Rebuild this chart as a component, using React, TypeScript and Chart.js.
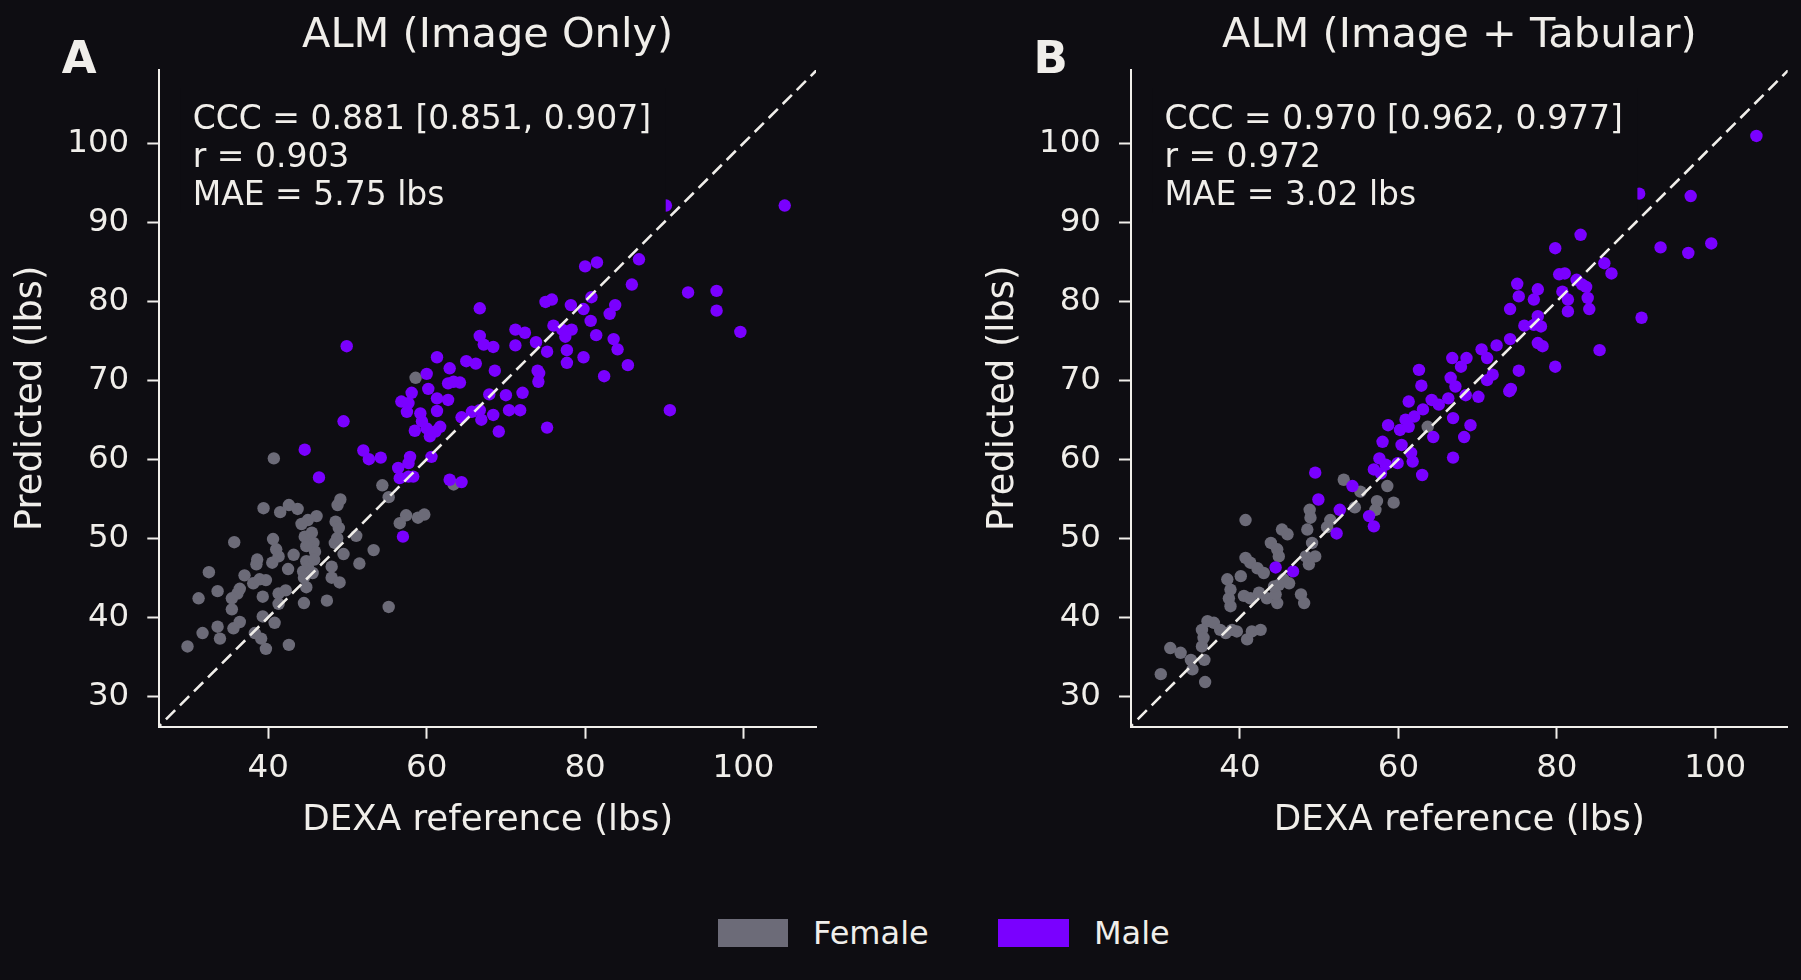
import React, { useEffect, useRef } from 'react';
import { Chart, registerables } from 'chart.js';

Chart.register(...registerables);

const BG = '#0e0d12';
const FG = '#f0eeea';
const GRAY = '#6c6b78';
const PURPLE = '#7a00ff';
const FAMILY = '"DejaVu Sans", "Liberation Sans", sans-serif';

const xRange = [26.24, 109.15];
const yRange = [26.15, 109.25];
const diagonal = [20, 115];
const xTicks = [40, 60, 80, 100];
const yTicks = [30, 40, 50, 60, 70, 80, 90, 100];
const seriesNames = ['Female', 'Male'];

const titleA = 'ALM (Image Only)';
const titleB = 'ALM (Image + Tabular)';
const xLabel = 'DEXA reference (lbs)';
const yLabel = 'Predicted (lbs)';
const statsA = ['CCC = 0.881 [0.851, 0.907]', 'r = 0.903', 'MAE = 5.75 lbs'];
const statsB = ['CCC = 0.970 [0.962, 0.977]', 'r = 0.972', 'MAE = 3.02 lbs'];

const femaleA: number[][] = [
  [40.7, 60.1], [39.4, 53.8], [41.5, 53.3], [42.6, 54.2], [43.7, 53.7], [48.75, 54.2], [49.1, 54.9],
  [46.1, 52.8], [45.0, 52.3], [44.2, 51.8], [48.5, 52.1], [48.9, 51.3], [35.7, 49.5], [40.6, 49.9],
  [44.6, 50.2], [45.5, 50.7], [45.7, 49.4], [45.9, 48.3], [44.8, 49.0], [48.4, 49.4], [48.7, 50.0],
  [51.1, 50.3], [53.3, 48.5], [41.0, 48.6], [41.3, 47.7], [40.5, 46.9], [43.2, 47.9], [38.6, 47.3],
  [38.5, 46.7], [49.5, 48.0], [44.8, 47.1], [45.0, 46.4], [44.4, 45.8], [44.5, 45.0], [42.5, 46.1],
  [48.0, 46.4], [51.5, 46.8], [32.5, 45.7], [37.0, 45.3], [38.1, 44.3], [38.9, 44.8], [39.7, 44.7],
  [48.0, 45.0], [49.0, 44.4], [44.8, 43.8], [36.4, 43.6], [36.1, 43.0], [33.6, 43.3], [31.2, 42.4],
  [35.4, 42.4], [35.4, 41.0], [39.3, 42.6], [41.3, 43.0], [42.2, 43.4], [41.3, 41.7], [44.5, 41.8],
  [47.4, 42.1], [55.2, 41.3], [39.3, 40.1], [40.8, 39.3], [36.4, 39.4], [35.6, 38.6], [33.6, 38.8],
  [33.9, 37.3], [31.7, 38.0], [38.3, 38.0], [39.1, 37.3], [39.7, 36.0], [29.8, 36.3], [42.6, 36.5],
  [54.4, 56.7], [55.2, 55.2], [56.6, 51.9], [57.4, 52.9], [58.9, 52.6], [59.7, 53.0], [63.4, 56.8],
  [58.6, 70.3], [45.8, 47.3], [45.6, 45.6],
];

const maleA: number[][] = [
  [44.6, 61.2], [46.4, 57.7], [52.0, 61.1], [52.7, 60.0], [57.0, 50.2], [49.9, 74.3], [49.5, 64.8],
  [105.2, 92.1], [90.2, 92.1], [99.6, 76.1],
  [80.0, 84.4], [81.5, 84.9], [86.8, 85.3], [85.9, 82.1], [93.0, 81.1], [96.6, 81.3], [96.6, 78.8],
  [66.7, 79.1], [75.0, 79.9], [75.8, 80.2], [78.2, 79.5], [80.8, 80.5], [79.8, 79.0], [83.8, 79.5],
  [83.1, 78.4], [80.7, 77.5], [81.4, 75.7], [76.0, 76.9], [77.1, 76.4], [78.3, 76.4], [77.5, 75.5],
  [77.7, 73.8], [77.7, 72.2], [79.8, 72.9], [83.6, 75.2], [84.1, 73.9], [85.4, 71.9], [82.4, 70.5],
  [90.7, 66.2], [75.2, 64.0],
  [66.7, 75.6], [67.2, 74.5], [68.4, 74.2], [71.2, 76.4], [72.4, 76.0], [71.2, 74.4], [73.8, 74.8],
  [75.2, 73.6], [74.0, 71.2], [74.2, 70.9], [74.1, 69.8], [68.6, 71.2], [61.3, 72.9], [65.0, 72.4],
  [66.2, 72.1], [62.9, 71.5], [60.0, 70.8], [62.7, 69.6], [64.2, 69.7], [63.4, 69.8], [58.1, 68.4],
  [60.2, 68.9], [61.3, 67.7], [62.7, 67.5], [56.8, 67.3], [57.7, 67.1], [57.5, 66.0], [61.3, 66.1],
  [67.9, 68.2], [70.0, 68.1], [72.1, 68.4], [70.4, 66.2], [71.8, 66.2], [68.4, 65.6], [66.9, 65.0],
  [65.7, 66.0], [66.7, 66.2], [64.4, 65.3], [59.2, 65.8], [59.4, 64.8], [60.0, 63.9], [58.5, 63.6],
  [61.7, 64.1], [60.4, 62.9], [61.1, 63.5], [69.1, 63.5], [60.6, 60.3], [57.9, 60.3], [57.7, 59.5],
  [54.2, 60.2], [56.4, 58.9], [56.6, 57.6], [58.3, 57.8], [57.7, 57.8], [62.9, 57.4], [64.4, 57.1],
];

const femaleB: number[][] = [
  [40.7, 52.3], [38.4, 44.8], [40.1, 45.2], [40.7, 47.5], [41.3, 46.9], [42.2, 46.2], [43.0, 45.6],
  [38.8, 43.5], [38.6, 42.4], [38.8, 41.4], [35.9, 39.5], [35.2, 38.4], [35.4, 37.4], [35.2, 36.3],
  [36.7, 39.3], [37.5, 38.4], [38.2, 38.0], [39.0, 38.4], [39.6, 38.2], [40.9, 37.2], [41.5, 38.2],
  [42.6, 38.4], [31.2, 36.1], [32.5, 35.5], [33.8, 34.6], [34.0, 33.4], [30.0, 32.8], [35.5, 34.6],
  [35.6, 31.8], [40.5, 42.7], [41.3, 42.4], [42.4, 43.1], [43.4, 42.4], [44.7, 41.8], [44.5, 42.9],
  [44.9, 44.1], [45.5, 44.8], [46.2, 44.3], [44.3, 43.9], [47.7, 42.9], [48.1, 41.8], [45.3, 51.1],
  [46.0, 50.5], [43.9, 49.4], [44.7, 48.6], [44.9, 47.7], [48.8, 53.6], [48.9, 52.6], [48.5, 51.1],
  [49.1, 49.4], [48.3, 47.7], [48.7, 46.7], [49.5, 47.7], [51.4, 52.3], [51.0, 51.4], [53.1, 57.4],
  [55.2, 55.9], [54.5, 53.9], [58.6, 56.6], [57.3, 54.7], [57.1, 53.6], [59.4, 54.5], [63.7, 64.1],
];

const maleB: number[][] = [
  [49.5, 58.3], [49.9, 54.9], [52.6, 53.6], [52.2, 50.6], [46.7, 45.8], [44.5, 46.3], [54.2, 56.6],
  [56.3, 52.8], [56.9, 51.5], [105.2, 100.9], [99.5, 87.3],
  [96.9, 93.3], [90.4, 93.6], [83.0, 88.4], [79.8, 86.7], [93.1, 86.8], [96.6, 86.1], [86.0, 84.8],
  [86.9, 83.5], [80.3, 83.4], [81.0, 83.5], [82.5, 82.7], [83.7, 81.8], [83.2, 82.1], [75.0, 82.2],
  [77.6, 81.5], [77.1, 80.2], [75.2, 80.6], [80.7, 81.2], [81.4, 80.2], [81.4, 78.7], [83.9, 80.4],
  [84.1, 79.0], [74.1, 79.0], [77.6, 78.1], [75.9, 76.9], [78.0, 76.8], [77.1, 77.0], [90.7, 77.9],
  [74.1, 75.2], [72.4, 74.4], [77.6, 74.7], [78.2, 74.3], [70.5, 73.9], [71.2, 72.8], [85.4, 73.8],
  [66.8, 72.8], [68.6, 72.8], [67.9, 71.7], [62.6, 71.3], [71.9, 70.7], [71.2, 70.0], [75.2, 71.2],
  [79.8, 71.7], [66.6, 70.3], [67.2, 69.2], [62.9, 69.3], [74.0, 68.6], [74.2, 68.9], [61.3, 67.3],
  [64.2, 67.5], [65.1, 66.9], [66.3, 67.7], [68.5, 68.1], [70.1, 67.9], [63.1, 66.3], [62.0, 65.4],
  [60.9, 65.0], [58.7, 64.3], [60.2, 63.7], [61.3, 64.1], [66.9, 65.2], [69.1, 64.3], [64.4, 62.8],
  [68.3, 62.8], [58.0, 62.2], [60.4, 61.8], [61.6, 60.8], [61.8, 59.7], [57.6, 60.1], [58.4, 59.3],
  [59.9, 59.5], [56.9, 58.7], [57.8, 58.2], [66.9, 60.2], [63.0, 58.0],
];

const toPts = (arr: number[][]) => arr.map(([x, y]) => ({ x, y }));

const panelTextPlugin = {
  id: 'panelText',
  afterDatasetsDraw(chart: any, _args: any, opts: any) {
    const { ctx, chartArea } = chart;
    const tx = chartArea.left + 33.4;
    ctx.save();
    ctx.beginPath();
    ctx.rect(chartArea.left + 1, chartArea.top, chartArea.width, chartArea.height);
    ctx.clip();
    ctx.fillStyle = BG;
    ctx.fillRect(tx - 12, 88, 485, 125);
    ctx.restore();
    ctx.save();
    ctx.fillStyle = FG;
    ctx.textAlign = 'left';
    ctx.textBaseline = 'alphabetic';
    ctx.font = `33px ${FAMILY}`;
    (opts.stats || []).forEach((s: string, i: number) => ctx.fillText(s, tx, 129.3 + i * 37.85));
    ctx.font = `bold 45px ${FAMILY}`;
    ctx.fillText(opts.panel || '', chartArea.left - 97.6, 73.3);
    ctx.restore();
  },
};

function makeConfig(title: string, panel: string, stats: string[], female: number[][], male: number[][], padLeft: number, padRight: number): any {
  const axisCommon = {
    type: 'linear',
    grid: { display: true, drawOnChartArea: false, drawTicks: true, tickLength: 12, tickWidth: 2, tickColor: FG, color: FG },
    border: { display: true, color: FG, width: 2 },
  };
  return {
    type: 'scatter',
    data: {
      datasets: [
        {
          label: 'y = x',
          data: [{ x: diagonal[0], y: diagonal[0] }, { x: diagonal[1], y: diagonal[1] }],
          showLine: true,
          borderColor: FG,
          borderWidth: 2.6,
          borderDash: [13, 6.8],
          pointRadius: 0,
          backgroundColor: FG,
        },
        { label: seriesNames[1], data: toPts(male), backgroundColor: PURPLE, borderWidth: 0, pointRadius: 6.2 },
        { label: seriesNames[0], data: toPts(female), backgroundColor: GRAY, borderWidth: 0, pointRadius: 6.2 },
      ],
    },
    options: {
      animation: false,
      responsive: false,
      events: [],
      layout: { padding: { left: padLeft, right: padRight, top: 0, bottom: 0 } },
      plugins: {
        legend: { display: false },
        tooltip: { enabled: false },
        title: {
          display: true,
          text: title,
          color: FG,
          fullSize: false,
          font: { family: FAMILY, size: 41.5, weight: 'normal' },
          padding: { top: 11.2, bottom: 9 },
        },
        panelText: { panel, stats },
      },
      scales: {
        x: {
          ...axisCommon,
          min: xRange[0],
          max: xRange[1],
          afterBuildTicks: (s: any) => { s.ticks = xTicks.map((v) => ({ value: v })); },
          afterFit: (s: any) => { s.height = 143.3; },
          ticks: { color: FG, font: { family: FAMILY, size: 32.5 }, padding: 9.9, maxRotation: 0, autoSkip: false },
          title: { display: true, text: xLabel, color: FG, font: { family: FAMILY, size: 35.7 }, padding: { top: 0, bottom: 28.3 } },
        },
        y: {
          ...axisCommon,
          min: yRange[0],
          max: yRange[1],
          afterBuildTicks: (s: any) => { s.ticks = yTicks.map((v) => ({ value: v })); },
          afterFit: (s: any) => { s.width = 159.3; },
          ticks: { color: FG, font: { family: FAMILY, size: 32.5 }, padding: 18, autoSkip: false },
          title: { display: true, text: yLabel, color: FG, font: { family: FAMILY, size: 36.7 }, padding: { top: 9.5, bottom: 0 } },
        },
      },
    },
    plugins: [panelTextPlugin],
  };
}

function Panel(props: { left: number; width: number; cfg: () => any }) {
  const ref = useRef<HTMLCanvasElement | null>(null);
  useEffect(() => {
    if (!ref.current) return;
    const chart = new Chart(ref.current, props.cfg());
    return () => chart.destroy();
  }, []);
  return (
    <canvas
      ref={ref}
      width={props.width}
      height={870}
      style={{ position: 'absolute', left: props.left, top: 0, width: props.width, height: 870 }}
    />
  );
}

export default function App() {
  useEffect(() => {
    document.body.style.margin = '0';
    document.body.style.background = BG;
  }, []);
  const legendText: React.CSSProperties = {
    position: 'absolute', top: 917, fontFamily: FAMILY, fontSize: 32, lineHeight: '32px', color: FG, whiteSpace: 'nowrap',
  };
  return (
    <div style={{ position: 'relative', width: 1801, height: 980, background: BG, overflow: 'hidden' }}>
      <Panel left={0} width={900} cfg={() => makeConfig(titleA, 'A', statsA, femaleA, maleA, 0, 84)} />
      <Panel left={900} width={901} cfg={() => makeConfig(titleB, 'B', statsB, femaleB, maleB, 71.7, 13.3)} />
      <div style={{ position: 'absolute', left: 718, top: 919, width: 70, height: 28, background: GRAY }} />
      <div style={{ ...legendText, left: 813 }}>{seriesNames[0]}</div>
      <div style={{ position: 'absolute', left: 998, top: 919, width: 71, height: 28, background: PURPLE }} />
      <div style={{ ...legendText, left: 1094 }}>{seriesNames[1]}</div>
    </div>
  );
}
